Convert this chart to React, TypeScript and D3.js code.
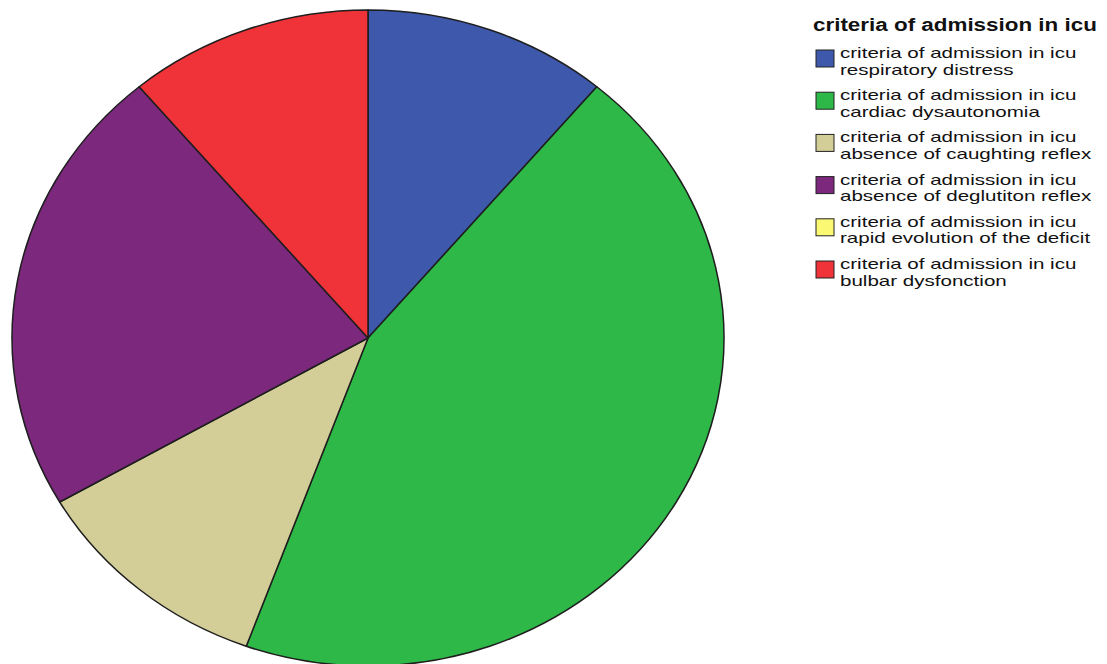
import React from "react";
import * as d3 from "d3";

const categories = [
  "respiratory distress",
  "cardiac dysautonomia",
  "absence of caughting reflex",
  "absence of deglutiton reflex",
  "rapid evolution of the deficit",
  "bulbar dysfonction",
];
const counts = [1, 4, 1, 2, 0, 1];
const colors = ["#3E58AC", "#2EB848", "#D3CE97", "#7C287D", "#FBF873", "#EF3338"];
const legendTitle = "criteria of admission in icu";
const itemPrefix = "criteria of admission in icu";

export default function App() {
  const W = 1107, H = 664;
  const cx = 368, cy = 338, rx = 356, ry = 328;
  const data = categories.map((c, i) => ({ c, v: counts[i], color: colors[i] }));
  const pie = d3.pie<any>().value((d: any) => d.v).sort(null).startAngle(0).endAngle(2 * Math.PI);
  const arcs = pie(data);
  const arc = d3.arc<any>().innerRadius(0).outerRadius(rx);

  const lx = 813;
  const titleY = 31;
  const item0 = 58;
  const pitch = 42.2;
  const sx = 1.37;

  return (
    <svg width={W} height={H} style={{ position: "absolute", left: 0, top: 0, background: "#fff" }}>
      <rect x={0} y={0} width={W} height={H} fill="#fff" />
      <g transform={`translate(${cx},${cy}) scale(1,${ry / rx})`}>
        {arcs
          .filter((a) => a.endAngle - a.startAngle > 0)
          .map((a, i) => (
            <path
              key={i}
              d={arc(a) as string}
              fill={a.data.color}
              stroke="#1e1e1e"
              strokeWidth={1.5}
              vectorEffect="non-scaling-stroke"
              strokeLinejoin="round"
            />
          ))}
      </g>
      <g fontFamily="Arial, 'Liberation Sans', Helvetica, sans-serif" fill="#111">
        <text
          transform={`translate(${lx},${titleY}) scale(1.18,1)`}
          fontSize={19}
          fontWeight="bold"
        >
          {legendTitle}
        </text>
        {data.map((d, i) => {
          const by = item0 + i * pitch;
          return (
            <g key={i}>
              <rect x={816} y={by - 8} width={18} height={17} fill={d.color} stroke="#222" strokeWidth={1} />
              <text transform={`translate(840,${by}) scale(${sx},1)`} fontSize={15}>
                {itemPrefix}
              </text>
              <text transform={`translate(840,${by + 16.5}) scale(${sx},1)`} fontSize={15}>
                {d.c}
              </text>
            </g>
          );
        })}
      </g>
    </svg>
  );
}
